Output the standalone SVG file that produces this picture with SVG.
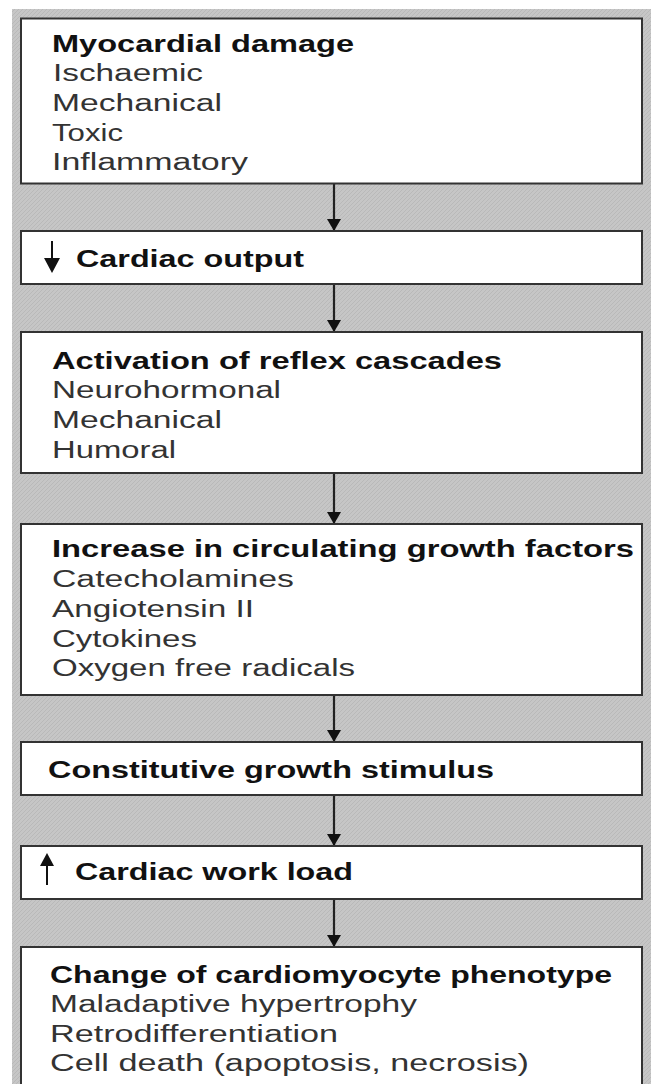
<svg xmlns="http://www.w3.org/2000/svg" width="651" height="1084" viewBox="0 0 651 1084">
<defs>
<pattern id="hatch" width="4" height="4" patternUnits="userSpaceOnUse">
<rect width="4" height="4" fill="#c6c6c6"/>
<path d="M0,4 L4,0" stroke="#b9b9b9" stroke-width="1"/>
</pattern>
<marker id="ah" markerUnits="userSpaceOnUse" markerWidth="14" markerHeight="14" refX="12" refY="7" orient="auto">
<path d="M0,0 L12,7 L0,14 Z" fill="#111"/>
</marker>
<style>
.box{fill:#fff;stroke:#333;stroke-width:2}
.h{font-family:"Liberation Sans",Arial,sans-serif;font-weight:bold;font-size:23px;fill:#111}
.t{font-family:"Liberation Sans",Arial,sans-serif;font-size:23px;fill:#333}
.conn{stroke:#222;stroke-width:2.2;fill:none}
</style>
</defs>
<rect x="0" y="0" width="651" height="1084" fill="#fff"/>
<rect x="12" y="9" width="639" height="1075" fill="url(#hatch)"/>

<g id="connectors">
<line class="conn" x1="334" y1="184" x2="334" y2="231" marker-end="url(#ah)"/>
<line class="conn" x1="334" y1="285" x2="334" y2="332" marker-end="url(#ah)"/>
<line class="conn" x1="334" y1="474" x2="334" y2="524" marker-end="url(#ah)"/>
<line class="conn" x1="334" y1="696" x2="334" y2="742" marker-end="url(#ah)"/>
<line class="conn" x1="334" y1="796" x2="334" y2="846" marker-end="url(#ah)"/>
<line class="conn" x1="334" y1="900" x2="334" y2="947" marker-end="url(#ah)"/>
</g>

<g id="node1">
<rect class="box" x="21" y="18.5" width="621" height="165"/>
<text class="h" x="52" y="52" textLength="302" lengthAdjust="spacingAndGlyphs">Myocardial damage</text>
<text class="t" x="53" y="81" textLength="150" lengthAdjust="spacingAndGlyphs">Ischaemic</text>
<text class="t" x="52" y="111" textLength="170" lengthAdjust="spacingAndGlyphs">Mechanical</text>
<text class="t" x="52" y="141" textLength="71" lengthAdjust="spacingAndGlyphs">Toxic</text>
<text class="t" x="52" y="170" textLength="196" lengthAdjust="spacingAndGlyphs">Inflammatory</text>
</g>

<g id="node2">
<rect class="box" x="21" y="231" width="621" height="53"/>
<line x1="52" y1="241" x2="52" y2="262" stroke="#111" stroke-width="2"/>
<polygon points="44,258 60,258 52,273" fill="#111"/>
<text class="h" x="76" y="267" textLength="228" lengthAdjust="spacingAndGlyphs">Cardiac output</text>
</g>

<g id="node3">
<rect class="box" x="21" y="332" width="621" height="141"/>
<text class="h" x="52" y="369" textLength="450" lengthAdjust="spacingAndGlyphs">Activation of reflex cascades</text>
<text class="t" x="52" y="398" textLength="229" lengthAdjust="spacingAndGlyphs">Neurohormonal</text>
<text class="t" x="52" y="428" textLength="170" lengthAdjust="spacingAndGlyphs">Mechanical</text>
<text class="t" x="52" y="458" textLength="124" lengthAdjust="spacingAndGlyphs">Humoral</text>
</g>

<g id="node4">
<rect class="box" x="21" y="524" width="621" height="171"/>
<text class="h" x="52" y="557" textLength="582" lengthAdjust="spacingAndGlyphs">Increase in circulating growth factors</text>
<text class="t" x="52" y="587" textLength="242" lengthAdjust="spacingAndGlyphs">Catecholamines</text>
<text class="t" x="52" y="617" textLength="202" lengthAdjust="spacingAndGlyphs">Angiotensin II</text>
<text class="t" x="52" y="647" textLength="145" lengthAdjust="spacingAndGlyphs">Cytokines</text>
<text class="t" x="52" y="676" textLength="303" lengthAdjust="spacingAndGlyphs">Oxygen free radicals</text>
</g>

<g id="node5">
<rect class="box" x="21" y="742" width="621" height="53"/>
<text class="h" x="48" y="778" textLength="446" lengthAdjust="spacingAndGlyphs">Constitutive growth stimulus</text>
</g>

<g id="node6">
<rect class="box" x="21" y="846" width="621" height="53"/>
<line x1="47" y1="862" x2="47" y2="885" stroke="#111" stroke-width="2"/>
<polygon points="40,866 54,866 47,853" fill="#111"/>
<text class="h" x="75" y="880" textLength="278" lengthAdjust="spacingAndGlyphs">Cardiac work load</text>
</g>

<g id="node7">
<rect class="box" x="21" y="947" width="621" height="150"/>
<text class="h" x="50" y="983" textLength="562" lengthAdjust="spacingAndGlyphs">Change of cardiomyocyte phenotype</text>
<text class="t" x="50" y="1012" textLength="367" lengthAdjust="spacingAndGlyphs">Maladaptive hypertrophy</text>
<text class="t" x="50" y="1042" textLength="288" lengthAdjust="spacingAndGlyphs">Retrodifferentiation</text>
<text class="t" x="50" y="1071" textLength="479" lengthAdjust="spacingAndGlyphs">Cell death (apoptosis, necrosis)</text>
</g>
</svg>
